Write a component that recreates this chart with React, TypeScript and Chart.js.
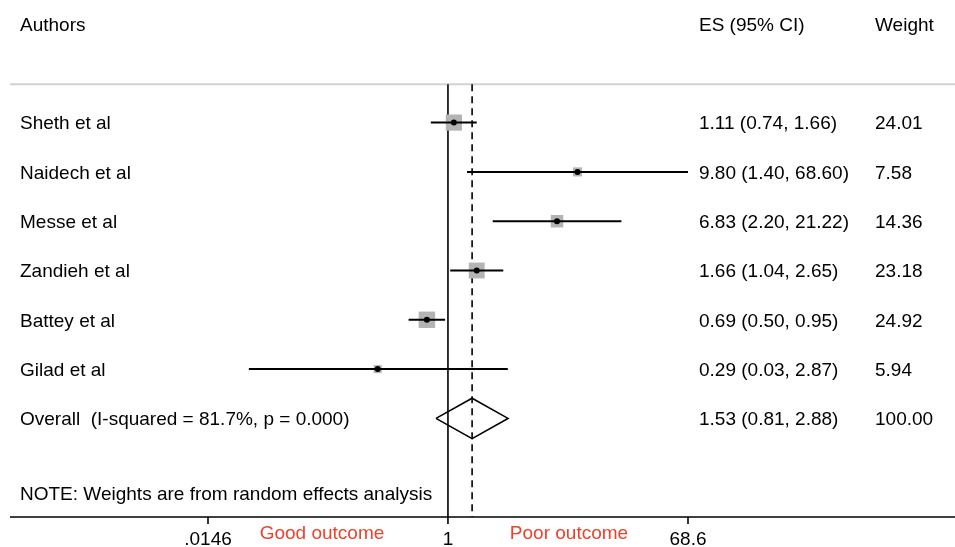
import React, { useEffect, useRef } from "react";
import { Chart, registerables } from "chart.js";

Chart.register(...registerables);

// ---------- data ----------
const authors = ["Sheth et al", "Naidech et al", "Messe et al", "Zandieh et al", "Battey et al", "Gilad et al"];
const estimates = [1.11, 9.8, 6.83, 1.66, 0.69, 0.29];
const lowerCI = [0.74, 1.4, 2.2, 1.04, 0.5, 0.03];
const upperCI = [1.66, 68.6, 21.22, 2.65, 0.95, 2.87];
const weights = [24.01, 7.58, 14.36, 23.18, 24.92, 5.94];

const overallLabel = "Overall  (I-squared = 81.7%, p = 0.000)";
const overallES = [1.53];
const overallLower = [0.81];
const overallUpper = [2.88];
const overallWeight = [100.0];

const xTickValues = [0.0146, 1, 68.6];
const xTickLabels = [".0146", "1", "68.6"];
const headerLabels = ["Authors", "ES (95% CI)", "Weight"];
const noteText = "NOTE: Weights are from random effects analysis";
const goodLabel = "Good outcome";
const poorLabel = "Poor outcome";

// ---------- style ----------
const FONT = '"Liberation Sans", Arial, Helvetica, sans-serif';
const W = 955;
const H = 547;
const TEXT_DY = 1.5;

const fmt = (v: number) => v.toFixed(2);

export default function App() {
  const ref = useRef<HTMLCanvasElement | null>(null);

  useEffect(() => {
    document.body.style.margin = "0";
    const canvas = ref.current!;
    const rows = authors.map((_, i) => i);
    const overallRow = authors.length;
    const topRow = -0.78;
    const bottomRow = 8;

    const ciSets = rows.map((i) => ({
      label: "ci" + i,
      data: [
        { x: lowerCI[i], y: i },
        { x: upperCI[i], y: i },
      ],
      showLine: true,
      borderColor: "#000",
      borderWidth: 2,
      pointRadius: 0,
      order: 1,
    }));

    const boxSet = {
      label: "boxes",
      data: rows.map((i) => ({ x: estimates[i], y: i })),
      pointStyle: "rect",
      pointRadius: rows.map((i) => (3.3 * Math.sqrt(weights[i])) / Math.SQRT2),
      backgroundColor: "#b4b4b4",
      borderWidth: 0,
      borderColor: "rgba(0,0,0,0)",
      order: 2,
    };

    const dotSet = {
      label: "dots",
      data: rows.map((i) => ({ x: estimates[i], y: i })),
      pointStyle: "circle",
      pointRadius: 3,
      backgroundColor: "#000",
      borderWidth: 0,
      order: 0,
    };

    const diamond = {
      label: "overall",
      data: [
        { x: overallLower[0], y: overallRow },
        { x: overallES[0], y: overallRow - 0.41 },
        { x: overallUpper[0], y: overallRow },
        { x: overallES[0], y: overallRow + 0.41 },
        { x: overallLower[0], y: overallRow },
      ],
      showLine: true,
      borderColor: "#000",
      borderWidth: 1.6,
      pointRadius: 0,
      tension: 0,
      order: 1,
    };

    const nullLine = {
      label: "null",
      data: [
        { x: 1, y: topRow },
        { x: 1, y: bottomRow },
      ],
      showLine: true,
      borderColor: "#000",
      borderWidth: 1.6,
      pointRadius: 0,
      order: 3,
    };

    const overallLine = {
      label: "overallLine",
      data: [
        { x: overallES[0], y: topRow },
        { x: overallES[0], y: bottomRow },
      ],
      showLine: true,
      borderColor: "#000",
      borderWidth: 1.6,
      borderDash: [7, 5],
      pointRadius: 0,
      order: 3,
    };

    const textPlugin = {
      id: "forestText",
      beforeDatasetsDraw(chart: any) {
        const ctx = chart.ctx;
        const ys = chart.scales.y;
        ctx.save();
        ctx.strokeStyle = "#d2d2d2";
        ctx.lineWidth = 2;
        const gy = ys.getPixelForValue(topRow);
        ctx.beginPath();
        ctx.moveTo(10, gy);
        ctx.lineTo(W, gy);
        ctx.stroke();
        ctx.restore();
      },
      afterDraw(chart: any) {
        const ctx = chart.ctx;
        const xs = chart.scales.x;
        const ys = chart.scales.y;
        ctx.save();
        ctx.fillStyle = "#000";
        ctx.textBaseline = "middle";
        ctx.textAlign = "left";
        ctx.font = `19px ${FONT}`;

        const esX = 699;
        const wX = 875;
        const hy = ys.getPixelForValue(-2) + TEXT_DY;
        ctx.fillText(headerLabels[0], 20, hy);
        ctx.fillText(headerLabels[1], esX, hy);
        ctx.fillText(headerLabels[2], wX, hy);

        rows.forEach((i) => {
          const y = ys.getPixelForValue(i) + TEXT_DY;
          ctx.fillText(authors[i], 20, y);
          ctx.fillText(`${fmt(estimates[i])} (${fmt(lowerCI[i])}, ${fmt(upperCI[i])})`, esX, y);
          ctx.fillText(fmt(weights[i]), wX, y);
        });
        const oy = ys.getPixelForValue(overallRow) + TEXT_DY;
        ctx.fillText(overallLabel, 20, oy);
        ctx.fillText(`${fmt(overallES[0])} (${fmt(overallLower[0])}, ${fmt(overallUpper[0])})`, esX, oy);
        ctx.fillText(fmt(overallWeight[0]), wX, oy);

        ctx.fillText(noteText, 20, ys.getPixelForValue(7.52) + TEXT_DY);

        // axis
        const ay = ys.getPixelForValue(bottomRow);
        ctx.strokeStyle = "#000";
        ctx.lineWidth = 1.6;
        ctx.beginPath();
        ctx.moveTo(10, ay);
        ctx.lineTo(W, ay);
        ctx.stroke();
        ctx.textAlign = "center";
        xTickValues.forEach((v, k) => {
          const px = xs.getPixelForValue(v);
          ctx.beginPath();
          ctx.moveTo(px, ay);
          ctx.lineTo(px, ay + 7);
          ctx.stroke();
          ctx.fillText(xTickLabels[k], px, ay + 23);
        });

        ctx.fillStyle = "#e8432c";
        const p0 = xs.getPixelForValue(xTickValues[0]);
        const p1 = xs.getPixelForValue(xTickValues[1]);
        const p2 = xs.getPixelForValue(xTickValues[2]);
        ctx.fillText(goodLabel, (p0 + p1) / 2 - 6, ay + 17);
        ctx.fillText(poorLabel, (p1 + p2) / 2 + 1, ay + 17);
        ctx.restore();
      },
    };

    const chart = new Chart(canvas, {
      type: "scatter",
      data: {
        datasets: [dotSet, ...ciSets, diamond, boxSet, nullLine, overallLine] as any,
      },
      options: {
        animation: false,
        responsive: false,
        devicePixelRatio: 1,
        layout: { padding: { left: 208, right: 267, top: 24, bottom: 30 } },
        plugins: { legend: { display: false }, tooltip: { enabled: false } },
        events: [],
        scales: {
          x: {
            type: "logarithmic",
            min: xTickValues[0],
            max: xTickValues[2],
            bounds: "data",
            display: false,
          },
          y: {
            type: "linear",
            min: -2,
            max: 8,
            reverse: true,
            display: false,
          },
        },
        elements: { line: { tension: 0 } },
      } as any,
      plugins: [textPlugin],
    });
    return () => chart.destroy();
  }, []);

  return (
    <div style={{ position: "absolute", left: 0, top: 0, width: W, height: H, background: "#fff" }}>
      <canvas ref={ref} width={W} height={H} style={{ width: W, height: H, display: "block" }} />
    </div>
  );
}
